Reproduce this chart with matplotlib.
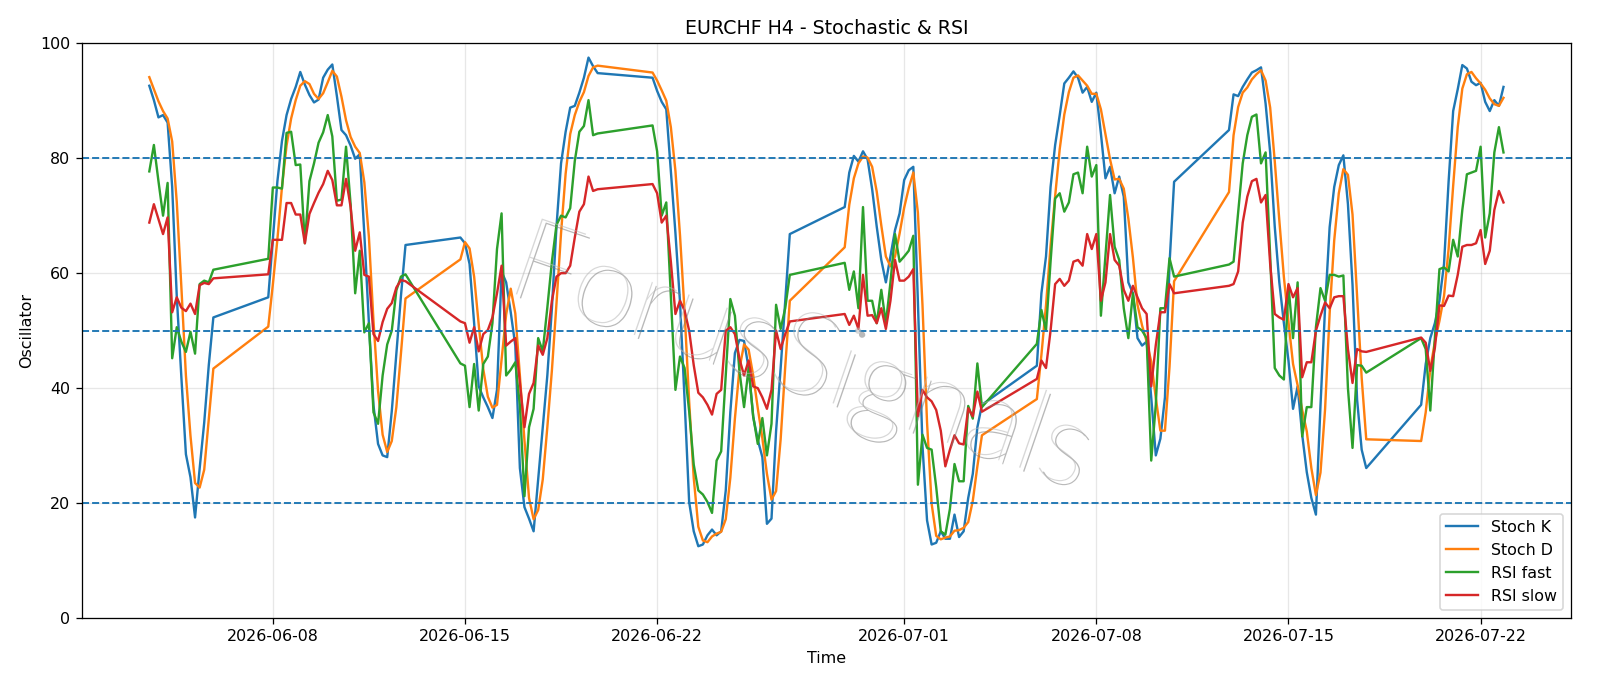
import numpy as np
import pandas as pd
import matplotlib
matplotlib.use("Agg")
import matplotlib.pyplot as plt
import matplotlib.patheffects as pe

# H4 sessions (start, number of bars) - weekends are gaps in the data
sessions = [
    ("2026-06-03 12:00", 15),
    ("2026-06-07 20:00", 31),
    ("2026-06-14 20:00", 31),
    ("2026-06-21 20:00", 31),
    ("2026-06-28 20:00", 31),
    ("2026-07-05 20:00", 31),
    ("2026-07-12 20:00", 31),
    ("2026-07-19 20:00", 19),
]

stoch_k = [
    92.6, 90.1, 87.1, 87.5, 86.2, 75, 56, 42, 28.5, 24.5, 17.5, 26, 34, 44, 52.3,
    55.8, 66, 76, 83, 87.5, 90.3, 92.4, 95, 92.8, 91, 89.7, 90.2, 94, 95.4, 96.3,
    90.8, 84.9, 84, 82.2, 79.9, 80.7, 66.8, 51.3, 37, 30.3, 28.3,
    28, 36, 46, 56, 64.9,
    66.2, 65.2, 61.6, 51.3, 40.3, 38.4, 36.7, 34.8, 39.7, 60.3, 58.4, 53.2, 47.4, 26.1, 19.3,
    17.3, 15.1, 24.1, 33.2, 42.2, 53.9, 68.1, 79.1, 84.6, 88.8, 89.1, 91.4, 94, 97.5, 96, 94.8,
    94, 91.7, 89.8, 88.5, 77.8, 67, 55, 38, 20.2, 15.1, 12.5, 12.8, 14.4, 15.4, 14.4,
    15.1, 22.2, 35.8, 46.1, 48.4, 48.2, 43.5, 35, 31, 28, 16.4, 17.3, 32.5, 43.5, 55.2, 66.8,
    71.5, 77.5, 80.4, 79.4, 81.2, 79.8, 74.6, 68.1, 62.3, 58.4, 62.9, 67.5, 70.4, 76.2, 77.9,
    78.5, 55, 30, 17, 12.8, 13.1, 15.1, 13.8, 13.8, 18, 14.1, 15.1, 20.9, 25.1, 33.2, 37.1,
    43.9, 56.5, 62.9, 75, 82.3, 87.5, 93, 94, 95.1, 94, 91.4, 92.4, 89.8, 91.4, 84.3,
    76.5, 78.5, 73.9, 76.8, 73.3, 58.4, 56.5, 48.7, 47.4, 48.1, 38.4, 28.3, 31.2, 38.4, 61.6, 75.9,
    84.9, 91.1, 90.8, 92.4, 93.7, 94.9, 95.3, 95.8, 89.5, 81, 68.1, 58.4, 51.3, 44.8, 36.4,
    40.3, 31.9, 25.4, 20.9, 18, 37, 54, 68, 75, 78.8, 80.5, 72, 58, 38, 29.3, 26.1,
    37.1, 44.2, 48.7, 51.3, 55.2, 61.6, 75.9, 88.2, 92, 96.2, 95.6, 93.3, 92.7, 93.1, 89.8,
    88.2, 90.1, 89.1, 92.4,
]

stoch_d = [
    94.1, 92.0, 89.9, 88.2, 86.9, 82.9, 72.4, 57.7, 42.2, 31.7, 23.5, 22.7, 25.8, 34.7, 43.4,
    50.7, 58, 65.9, 75, 82.2, 86.9, 90.1, 92.6, 93.4, 92.9, 91.2, 90.3, 91.3, 93.2, 95.2,
    94.2, 90.7, 86.6, 83.7, 82, 80.9, 75.8, 66.3, 51.7, 39.5, 31.9,
    28.9, 30.8, 36.7, 46, 55.6,
    62.4, 65.4, 64.3, 59.4, 51.1, 43.3, 38.5, 36.6, 37.1, 44.9, 52.8, 57.3, 53, 42.2, 30.9,
    20.9, 17.2, 18.8, 24.1, 33.2, 43.1, 54.7, 67, 77.3, 84.2, 87.5, 89.8, 91.5, 94.3, 95.8, 96.1,
    94.9, 93.5, 91.8, 90, 85.4, 77.8, 66.6, 53.3, 37.7, 24.4, 15.9, 13.5, 13.2, 14.2, 14.7,
    15, 17.2, 24.4, 34.7, 43.4, 47.6, 46.7, 42.2, 36.5, 31.3, 25.1, 20.6, 22.1, 31.1, 43.7, 55.2,
    64.5, 71.9, 76.5, 79.1, 80.3, 80.1, 78.5, 74.2, 68.3, 62.9, 61.2, 62.9, 66.9, 71.4, 74.8,
    77.5, 70.5, 54.5, 34, 19.9, 14.3, 13.7, 14, 14.2, 15.2, 15.3, 15.7, 16.7, 20.4, 26.4, 31.8,
    38.1, 45.8, 54.4, 64.8, 73.4, 81.6, 87.6, 91.5, 94, 94.4, 93.5, 92.6, 91.2, 91.2, 88.5,
    84.1, 79.8, 76.3, 76.4, 74.7, 69.5, 62.7, 54.5, 50.9, 48.1, 44.6, 38.3, 32.6, 32.6, 43.7, 58.6,
    74.1, 84, 88.9, 91.4, 92.3, 93.7, 94.6, 95.3, 93.5, 88.8, 79.5, 69.2, 59.3, 51.5, 44.2,
    40.5, 36.2, 32.5, 26.1, 21.4, 25.3, 36.3, 53, 65.7, 73.9, 78.1, 77.1, 70.2, 56, 41.8, 31.1,
    30.8, 35.8, 43.3, 48.1, 51.7, 56, 64.2, 75.2, 85.4, 92.1, 94.6, 95, 93.9, 93, 91.9,
    90.4, 89.4, 89.1, 90.5,
]

rsi_fast = [
    77.7, 82.3, 76.0, 70.0, 75.7, 45.2, 50.6, 48.1, 46.3, 49.8, 46.0, 58.1, 58.7, 58.4, 60.6,
    62.5, 74.9, 74.9, 74.7, 84.4, 84.6, 78.8, 78.9, 65.2, 76, 79.1, 82.7, 84.5, 87.5, 83.8,
    72.6, 72.8, 82, 72, 56.5, 63.9, 49.7, 51.3, 35.8, 33.8, 42.2,
    47.6, 50, 57, 59.4, 59.8,
    44.3, 43.9, 36.7, 44.2, 36.1, 44.2, 45.5, 51.3, 64.2, 70.4, 42.2, 43.2, 44.5, 37, 21.2,
    33.2, 36.4, 48.7, 46.4, 54, 62, 68.4, 70, 69.7, 71.3, 79.5, 84.6, 85.6, 90.1, 84, 84.3,
    85.7, 81.2, 70, 72.3, 56, 39.7, 45.5, 43.5, 36, 26.7, 22.2, 21.5, 20.2, 18.3, 27.4,
    29, 42.2, 55.5, 52.6, 42.9, 36.7, 43.5, 35.1, 30.3, 34.8, 28.3, 33.8, 54.5, 50.3, 53.9, 59.7,
    61.8, 57.1, 60.3, 53.9, 71.5, 55.2, 55.2, 51.3, 57.1, 51.3, 58.4, 66.8, 62, 62.9, 63.9,
    66.5, 23.2, 31.9, 29.6, 29.3, 22.8, 15.1, 14.5, 19, 26.8, 23.8, 23.8, 36.9, 34.7, 44.3, 36.7,
    47.7, 53.6, 50, 62, 73, 73.9, 70.7, 72.3, 77.2, 77.5, 73.9, 82, 76.8, 78.8, 52.6,
    63, 73.6, 64.6, 62.3, 53.9, 48.7, 56.5, 50.6, 50, 48.7, 27.4, 37.1, 53.9, 53.9, 62.6, 59.4,
    61.5, 62, 70.5, 79.1, 84, 87.2, 87.6, 79.1, 81, 63, 43.5, 42.2, 41.5, 57.8, 48.7,
    58.4, 31.6, 36.7, 36.7, 50.6, 57.4, 55.2, 59.7, 59.7, 59.4, 59.6, 40, 29.6, 44, 43.9, 42.7,
    48.7, 46.8, 36.1, 48.7, 60.7, 61, 60.3, 65.8, 62.9, 71, 77.2, 77.5, 77.8, 82, 66.2,
    70.4, 81, 85.4, 81,
]

rsi_slow = [
    68.8, 72, 69.4, 66.8, 69.7, 53.2, 55.8, 54, 53.4, 54.7, 52.9, 57.9, 58.3, 58.1, 59.1,
    59.8, 65.8, 65.8, 65.8, 72.2, 72.2, 70.2, 70.2, 65.2, 70.3, 72.2, 74, 75.5, 77.8, 76.2,
    71.8, 71.8, 76.4, 71.5, 63.9, 67.1, 59.7, 59.4, 49.4, 48.2, 51.5,
    53.8, 54.8, 57.5, 58.8, 58.6,
    51.6, 51.3, 47.9, 50.6, 46.4, 49.4, 50.1, 52.3, 56.5, 61.3, 47.4, 48.1, 48.7, 40.9, 33.2,
    39, 40.9, 47.4, 45.8, 48.7, 55.2, 59.4, 60, 60, 61.3, 66.2, 70.7, 72, 76.8, 74.3, 74.6,
    75.5, 73.9, 68.8, 70, 62, 52.9, 55.2, 53.5, 50, 44, 39.2, 38.4, 37.1, 35.4, 39,
    39.7, 50, 50.6, 49.4, 45.1, 42.2, 44.8, 40.3, 40, 38.4, 36.4, 39.7, 50, 46.8, 49.4, 51.6,
    52.9, 51, 52.6, 50.3, 59.7, 52.6, 52.7, 51.3, 53.9, 50.3, 55.2, 62.3, 58.7, 58.7, 59.4,
    60.7, 35.1, 39.7, 38.4, 37.7, 36.2, 32.6, 26.4, 29.3, 31.8, 30.4, 30.2, 36.5, 35.1, 39.4, 35.9,
    41.6, 44.8, 43.5, 50, 58.1, 59, 57.8, 58.7, 62, 62.3, 61.3, 66.8, 64.2, 66.8, 55.2,
    58.4, 66.8, 62.3, 61.3, 57.1, 55.2, 57.8, 55.8, 53.9, 52.9, 40.3, 47.5, 53.2, 53.2, 58.1, 56.5,
    57.8, 58.1, 60.3, 68.8, 73.3, 76, 76.4, 72.3, 73.6, 61.6, 52.9, 52.3, 51.9, 58.1, 55.8,
    57.4, 41.9, 44.5, 44.5, 50, 52.6, 54.9, 53.9, 55.8, 56, 56, 46.8, 40.9, 46.8, 46.4, 46.3,
    48.8, 47.9, 43, 47, 54.4, 54.3, 56.1, 56, 59.7, 64.6, 64.9, 64.9, 65.2, 67.5, 61.6,
    63.9, 71, 74.3, 72.3,
]

levels = [20, 50, 80]

# timestamps of every H4 bar
times = pd.DatetimeIndex(np.concatenate([
    pd.date_range(start, periods=n, freq="4h").values for start, n in sessions
]))
times = times.to_pydatetime()

fig = plt.figure(figsize=(14, 6.0025), dpi=1600 / 14)
ax = fig.add_axes([0.051, 0.099, 0.931, 0.838])

ax.plot(times, stoch_k, label="Stoch K")
ax.plot(times, stoch_d, label="Stoch D")
ax.plot(times, rsi_fast, label="RSI fast")
ax.plot(times, rsi_slow, label="RSI slow")

for lv in levels:
    ax.axhline(lv, color="C0", linestyle="--", linewidth=1.2)

ax.set_ylim(0, 100)
ax.grid(True, alpha=0.3)
ax.set_title("EURCHF H4 - Stochastic & RSI")
ax.set_xlabel("Time")
ax.set_ylabel("Oscillator")
ax.legend(loc="lower right")

# watermark
ax.text(0.482, 0.45, "ForusSignals", transform=ax.transAxes, fontsize=72,
        rotation=-19, ha="center", va="center", color="0.72", alpha=0.55,
        fontweight="light", family=["Lato", "DejaVu Sans"], zorder=5,
        path_effects=[pe.withSimplePatchShadow(offset=(2.5, -2.5), shadow_rgbFace="0.5", alpha=0.55)])

fig.savefig("out.png")
